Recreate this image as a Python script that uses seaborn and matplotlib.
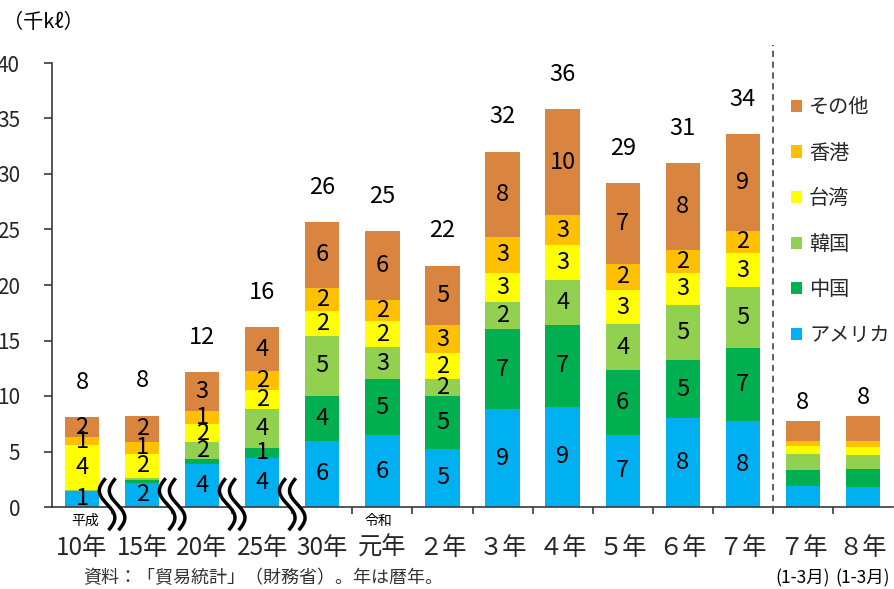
import numpy as np
import pandas as pd
import matplotlib
matplotlib.use("Agg")
import matplotlib.pyplot as plt
import matplotlib.transforms as mtransforms
from matplotlib.patches import Patch, Polygon
import seaborn as sns

# ---- data (thousand kl) ----
periods = ["H10", "H15", "H20", "H25", "H30", "R1", "R2", "R3", "R4", "R5", "R6", "R7",
           "R7Q1", "R8Q1"]
tick_labels = ["10年", "15年", "20年", "25年", "30年", "元年", "２年", "３年", "４年", "５年",
               "６年", "７年", "７年", "８年"]
america = [1.45, 2.19, 3.85, 4.45, 5.95, 6.45, 5.25, 8.80, 9.04, 6.52, 7.99, 7.72, 1.86, 1.83]
china = [0.03, 0.20, 0.47, 0.86, 4.08, 5.04, 4.78, 7.24, 7.38, 5.79, 5.28, 6.63, 1.50, 1.62]
korea = [0.05, 0.25, 1.53, 3.55, 5.38, 2.91, 1.52, 2.43, 4.06, 4.14, 4.93, 5.47, 1.41, 1.23]
taiwan = [4.03, 2.16, 1.62, 1.70, 2.25, 2.32, 2.28, 2.64, 3.09, 3.13, 2.88, 3.06, 0.75, 0.75]
hongkong = [0.75, 1.06, 1.20, 1.72, 2.10, 1.89, 2.61, 3.25, 2.71, 2.34, 2.05, 2.01, 0.45, 0.49]
others = [1.77, 2.36, 3.45, 3.90, 5.89, 6.21, 5.29, 7.65, 9.55, 7.27, 7.83, 8.71, 1.81, 2.28]

series_names = ["アメリカ", "中国", "韓国", "台湾", "香港", "その他"]
series_values = [america, china, korea, taiwan, hongkong, others]
series_colors = ["#00B0F0", "#00B050", "#92D050", "#FFFF00", "#FFC000", "#D9843F"]

n_annual = 12  # annual bars; the last two are January-March figures

sns.set_theme(style="white")
plt.rcParams["font.family"] = ["Noto Sans CJK JP", "DejaVu Sans"]

W, H = 894, 589
fig = plt.figure(figsize=(W / 100, H / 100), dpi=100)
ax = fig.add_axes([52 / W, 82 / H, 841 / W, 444 / H])

bottom = np.zeros(len(periods))
for name, vals, col in zip(series_names, series_values, series_colors):
    df = pd.DataFrame({"period": periods, "value": vals})
    sns.barplot(data=df, x="period", y="value", order=periods, color=col,
                saturation=1, width=0.57, errorbar=None, bottom=bottom,
                linewidth=0, ax=ax, zorder=2)
    for i, v in enumerate(vals):
        if i < n_annual and round(v) >= 1:
            ax.text(i, bottom[i] + v / 2, f"{v:.0f}", ha="center", va="center",
                    fontsize=17, color="black", zorder=4)
    bottom = bottom + np.array(vals)

# totals above each bar
for i, tot in enumerate(bottom):
    off = 3.15 if i < n_annual else 1.65
    ax.text(i, tot + off, f"{tot:.0f}", ha="center", va="center", fontsize=17,
            color="black")

ax.set_xlim(-0.5, len(periods) - 0.5)
ax.set_ylim(0, 40)
ax.set_yticks(np.arange(0, 41, 5))
ax.set_xticks(range(len(periods)))
ax.set_xticklabels(tick_labels)
ax.set_xticks(np.arange(0.5, len(periods) - 0.5, 1), minor=True)
ax.set_xlabel("")
ax.set_ylabel("")

for side in ("top", "right"):
    ax.spines[side].set_visible(False)
for side in ("left", "bottom"):
    ax.spines[side].set_color("#3a3a3a")
    ax.spines[side].set_linewidth(1.2)

ax.tick_params(axis="y", direction="out", length=6, width=1.2, color="#3a3a3a",
               pad=17, labelsize=15, left=True)
ax.tick_params(axis="x", which="major", length=0, pad=20, labelsize=17.5, bottom=True)
ax.tick_params(axis="x", which="minor", direction="out", length=5, width=1.2,
               color="#3a3a3a", bottom=True)

# separator between annual and quarterly figures
ax.axvline(n_annual - 0.5, ymin=-0.012, ymax=1.04, clip_on=False, color="#555555",
           lw=1.3, ls=(0, (3.5, 2.5)), zorder=3)

# wavy axis-break marks
t = np.linspace(0, 1, 80)
for xb in (0.5, 1.5, 2.5, 3.5):
    offset = mtransforms.ScaledTranslation(xb, 0.25, ax.transData)
    trans = fig.dpi_scale_trans + offset
    yy = 0.26 - 0.52 * t
    base = -0.07 * np.sin(2 * np.pi * t) + 0.03 * (t - 0.5)
    x1 = base - 0.05
    x2 = base + 0.05
    poly = Polygon(np.column_stack([np.r_[x1, x2[::-1]], np.r_[yy, yy[::-1]]]),
                   closed=True, facecolor="white", edgecolor="none",
                   transform=trans, clip_on=False, zorder=5)
    ax.add_patch(poly)
    for xs in (x1, x2):
        ax.plot(xs, yy, color="black", lw=2.5, transform=trans, clip_on=False,
                zorder=6, solid_capstyle="butt")

# era markers and quarter notes under the axis
below = mtransforms.blended_transform_factory(ax.transData, fig.transFigure)
ax.text(0.05, 1 - 521 / H, "平成", transform=below, ha="center", va="center",
        fontsize=10, color="black")
ax.text(5 - 0.07, 1 - 521 / H, "令和", transform=below, ha="center", va="center",
        fontsize=10, color="black")
for i in range(n_annual, len(periods)):
    ax.text(i, 1 - 578 / H, "(1-3月)", transform=below, ha="center", va="center",
            fontsize=12.5, color="black")

fig.text(3 / W, 1 - 22 / H, "（千kℓ）", ha="left", va="center", fontsize=14.5,
         color="black")
fig.text(83 / W, 1 - 578 / H, "資料：「貿易統計」（財務省）。年は暦年。", ha="left",
         va="center", fontsize=13, color="#333333")

# legend, top entry first
handles = [Patch(facecolor=c, edgecolor="none") for c in series_colors[::-1]]
ax.legend(handles, series_names[::-1], loc="upper left",
          bbox_to_anchor=(791 / W, 1 - 97 / H), bbox_transform=fig.transFigure,
          frameon=False, fontsize=14.5, handlelength=0.55, handleheight=0.55,
          handletextpad=0.35, labelspacing=1.22, borderpad=0, borderaxespad=0)

fig.savefig("out.png", dpi=100)
